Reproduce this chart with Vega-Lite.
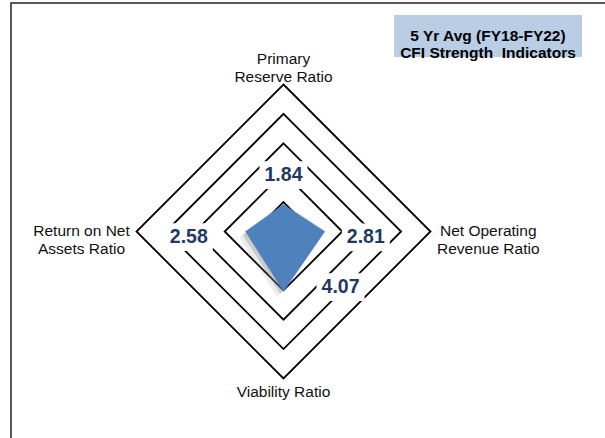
{
  "$schema": "https://vega.github.io/schema/vega-lite/v6.json",
  "width": 600,
  "height": 440,
  "autosize": "none",
  "padding": {"left": 11, "top": 3, "right": 0, "bottom": 0},
  "background": "white",
  "view": {"stroke": "#222222", "strokeWidth": 1.5},
  "config": {"font": "Liberation Sans"},
  "datasets": {
    "ratios": [
      {"axis": "Primary Reserve Ratio", "label": ["Primary", "Reserve Ratio"], "i": 0, "value": 1.84},
      {"axis": "Net Operating Revenue Ratio", "label": ["Net Operating", "Revenue Ratio"], "i": 1, "value": 2.81},
      {"axis": "Viability Ratio", "label": ["Viability Ratio"], "i": 2, "value": 4.07},
      {"axis": "Return on Net Assets Ratio", "label": ["Return on Net", "Assets Ratio"], "i": 3, "value": 2.58}
    ],
    "rings": [
      {"ring": 2, "i": [0, 1, 2, 3]},
      {"ring": 4, "i": [0, 1, 2, 3]},
      {"ring": 6, "i": [0, 1, 2, 3]},
      {"ring": 8, "i": [0, 1, 2, 3]},
      {"ring": 10, "i": [0, 1, 2, 3]}
    ]
  },
  "layer": [
    {
      "data": {"name": "rings"},
      "transform": [
        {"flatten": ["i"]},
        {"calculate": "datum.ring * sin(datum.i * PI / 2)", "as": "x"},
        {"calculate": "datum.ring * cos(datum.i * PI / 2)", "as": "y"}
      ],
      "mark": {"type": "line", "interpolate": "linear-closed", "stroke": "#000000", "strokeWidth": 1.8},
      "encoding": {
        "x": {"field": "x", "type": "quantitative", "scale": {"domain": [-18.537, 22.279], "nice": false, "zero": false}, "axis": null},
        "y": {"field": "y", "type": "quantitative", "scale": {"domain": [-14.388, 15.544], "nice": false, "zero": false}, "axis": null},
        "detail": {"field": "ring", "type": "nominal"},
        "order": {"field": "i", "type": "quantitative"}
      }
    },
    {
      "data": {"name": "ratios"},
      "transform": [
        {"calculate": "datum.value * sin(datum.i * PI / 2)", "as": "x"},
        {"calculate": "datum.value * cos(datum.i * PI / 2)", "as": "y"}
      ],
      "mark": {"type": "line", "interpolate": "linear-closed", "fill": "#7f7f7f", "fillOpacity": 0.15, "strokeOpacity": 0, "xOffset": -6, "yOffset": 6},
      "encoding": {
        "x": {"field": "x", "type": "quantitative"},
        "y": {"field": "y", "type": "quantitative"},
        "order": {"field": "i", "type": "quantitative"}
      }
    },
    {
      "data": {"name": "ratios"},
      "transform": [
        {"calculate": "datum.value * sin(datum.i * PI / 2)", "as": "x"},
        {"calculate": "datum.value * cos(datum.i * PI / 2)", "as": "y"}
      ],
      "mark": {"type": "line", "interpolate": "linear-closed", "fill": "#7f7f7f", "fillOpacity": 0.3, "strokeOpacity": 0, "xOffset": -3, "yOffset": 3},
      "encoding": {
        "x": {"field": "x", "type": "quantitative"},
        "y": {"field": "y", "type": "quantitative"},
        "order": {"field": "i", "type": "quantitative"}
      }
    },
    {
      "data": {"name": "ratios"},
      "transform": [
        {"calculate": "datum.value * sin(datum.i * PI / 2)", "as": "x"},
        {"calculate": "datum.value * cos(datum.i * PI / 2)", "as": "y"}
      ],
      "mark": {"type": "line", "interpolate": "linear-closed", "fill": "#4F81BD", "stroke": "#4F81BD", "strokeWidth": 0.5},
      "encoding": {
        "x": {"field": "x", "type": "quantitative"},
        "y": {"field": "y", "type": "quantitative"},
        "order": {"field": "i", "type": "quantitative"}
      }
    },
    {
      "data": {"name": "ratios"},
      "transform": [
        {"calculate": "[0, 5.6, 3.88, -6.44][datum.i]", "as": "lx"},
        {"calculate": "[3.84, -0.4, -3.78, -0.38][datum.i]", "as": "ly"}
      ],
      "mark": {"type": "point", "shape": "M-1,-0.58H1V0.58H-1Z", "size": 2304, "filled": true, "fill": "white", "opacity": 1, "strokeWidth": 0},
      "encoding": {
        "x": {"field": "lx", "type": "quantitative"},
        "y": {"field": "ly", "type": "quantitative"}
      }
    },
    {
      "data": {"name": "ratios"},
      "transform": [
        {"calculate": "[0, 5.6, 3.88, -6.44][datum.i]", "as": "lx"},
        {"calculate": "[3.84, -0.4, -3.78, -0.38][datum.i]", "as": "ly"}
      ],
      "mark": {"type": "text", "fontSize": 19.5, "fontWeight": "bold", "color": "#1F3864", "align": "center", "baseline": "middle"},
      "encoding": {
        "x": {"field": "lx", "type": "quantitative"},
        "y": {"field": "ly", "type": "quantitative"},
        "text": {"field": "value", "type": "quantitative", "format": ".2f"}
      }
    },
    {
      "data": {"name": "ratios"},
      "transform": [
        {"calculate": "[0, 13.93, 0, -13.74][datum.i]", "as": "tx"},
        {"calculate": "[11.73, 0, -10.92, 0][datum.i]", "as": "ty"}
      ],
      "mark": {"type": "text", "fontSize": 15.5, "lineHeight": 18, "color": "#111111", "align": "center", "baseline": "middle"},
      "encoding": {
        "x": {"field": "tx", "type": "quantitative"},
        "y": {"field": "ty", "type": "quantitative"},
        "text": {"field": "label"}
      }
    },
    {
      "data": {"values": [{}]},
      "mark": {"type": "rect", "fill": "#B9CDE5"},
      "encoding": {
        "x": {"datum": 7.52},
        "x2": {"datum": 20.31},
        "y": {"datum": 14.73},
        "y2": {"datum": 11.87}
      }
    },
    {
      "data": {"values": [{}]},
      "mark": {"type": "text", "fontSize": 15.5, "fontWeight": "bold", "lineHeight": 17.5, "color": "#000000", "align": "center", "baseline": "middle"},
      "encoding": {
        "x": {"datum": 13.91},
        "y": {"datum": 13.3},
        "text": {"value": ["5 Yr Avg (FY18-FY22)", "CFI Strength \u00a0Indicators"]}
      }
    }
  ]
}
